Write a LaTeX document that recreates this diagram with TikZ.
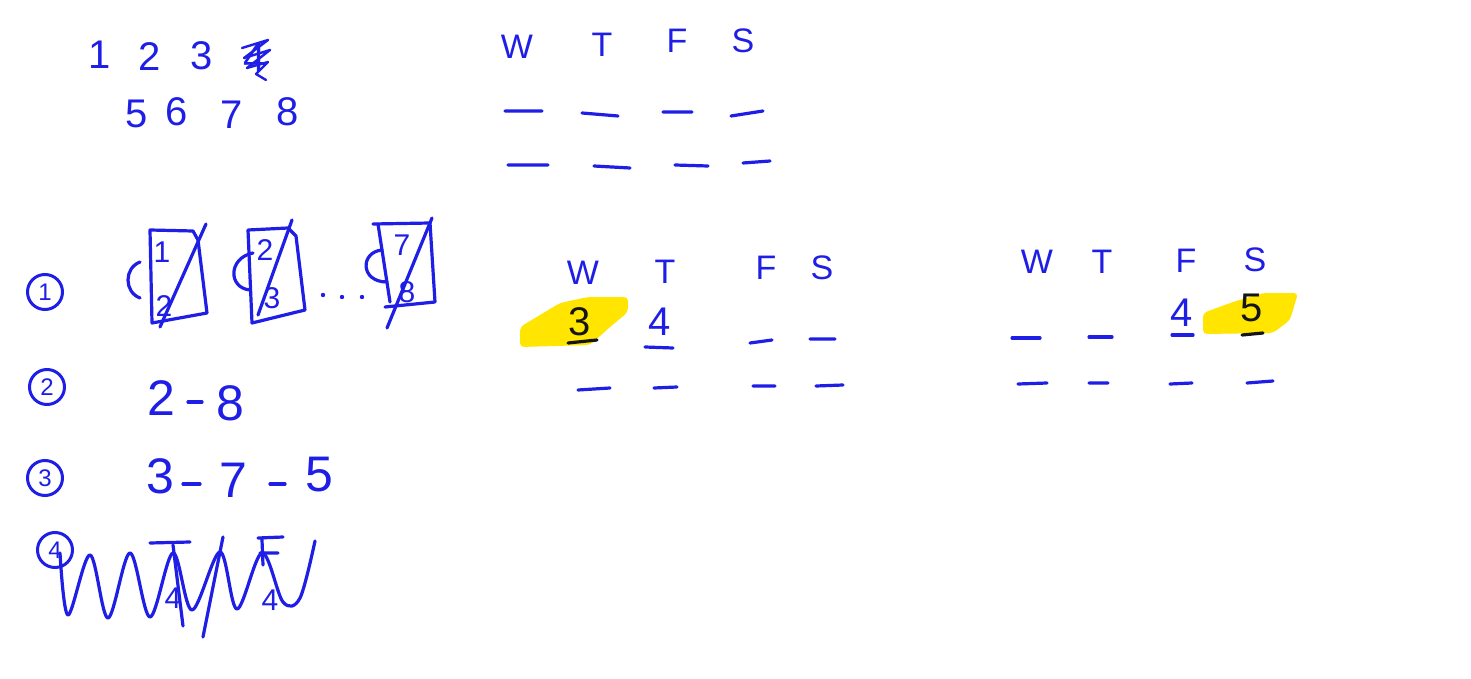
\documentclass[tikz,border=0pt]{standalone}
\usepackage{fontspec}
\setmainfont{Liberation Sans}
\usetikzlibrary{positioning}
\definecolor{ink}{HTML}{1E1EE6}
\definecolor{marker}{HTML}{FFE500}
\definecolor{pencil}{HTML}{151515}
\tikzset{
  digit/.style={
    text=ink,
    inner sep=0pt,
    font=\fontsize{40}{40}\selectfont
  },
  bigdigit/.style={
    digit,
    font=\fontsize{50}{50}\selectfont
  },
  smalldigit/.style={
    digit,
    font=\fontsize{30}{30}\selectfont
  },
  dayname/.style={
    text=ink,
    inner sep=0pt,
    font=\fontsize{34}{34}\selectfont
  },
  picked/.style={
    digit,
    text=pencil
  },
  itemnum/.style={
    draw=ink,
    circle,
    line width=3pt,
    minimum size=35pt,
    inner sep=0pt,
    text=ink,
    font=\fontsize{24}{24}\selectfont
  },
  stroke/.style={draw=ink,line width=3.2pt,line cap=round,line join=round},
  slot/.style={stroke},
  highlight/.style={fill=marker,draw=none,rounded corners=4pt}
}

\begin{document}
\begin{tikzpicture}[x=1pt,y=-1pt]
\fill[white] (0,0) rectangle (1471,679);
\useasboundingbox (0,0) rectangle (1471,679);

% players
\node[digit] (p1) at (100,55) {1};
\node[digit] (p2) at (150,57) {2};
\node[digit] (p3) at (202,56) {3};
\node[digit] (p4) at (255,58) {4};
\draw[stroke,line width=2.4pt] (242,48) -- (268,40) -- (244,58) -- (270,50) -- (247,68) -- (268,62) -- (256,74) -- (266,80);
\node[digit] (p5) at (137,114) {5};
\node[digit] (p6) at (177,112) {6};
\node[digit] (p7) at (232,115) {7};
\node[digit] (p8) at (288,112) {8};

% first schedule
\node[dayname] (topW) at (517,47) {W};
\node[dayname] (topT) at (602,45) {T};
\node[dayname] (topF) at (677,41) {F};
\node[dayname] (topS) at (743,41) {S};
\draw[slot] (505,111) -- (542,111) (582,113) -- (618,116) (663,112) -- (692,112) (731,116) -- (763,111);
\draw[slot] (508,165) -- (548,165) (594,166) -- (630,168) (675,165) -- (708,166) (743,163) -- (770,161);

% step 1
\node[itemnum] (item1) at (45,292) {1};
\draw[stroke] (140,262) .. controls (124,268) and (124,292) .. (140,298);
\draw[stroke] (150,230) -- (193,231) -- (198,240) -- (207,313) -- (152,323) -- cycle;
\node[smalldigit] (b1top) at (162,252) {1};
\node[smalldigit] (b1bot) at (164,306) {2};
\draw[stroke] (206,224) -- (160,327);
\draw[stroke] (253,253) .. controls (228,258) and (228,288) .. (250,290);
\draw[stroke] (248,230) -- (288,228) -- (296,236) -- (305,310) -- (252,323) -- cycle;
\node[smalldigit] (b2top) at (265,250) {2};
\node[smalldigit] (b2bot) at (272,298) {3};
\draw[stroke] (292,220) -- (258,315);
\fill[ink] (323,295) circle (2.2pt) (342,297) circle (2.2pt) (362,297) circle (2.2pt);
\draw[stroke] (382,250) .. controls (360,252) and (360,282) .. (387,282);
\draw[stroke] (373,224) -- (430,223) -- (435,302) -- (385,307);
\draw[stroke] (378,224) -- (390,302);
\node[smalldigit] (b3top) at (402,245) {7};
\node[smalldigit] (b3bot) at (407,292) {8};
\draw[stroke] (432,218) -- (387,328);

% step 2
\node[itemnum] (item2) at (47,387) {2};
\node[bigdigit] (s2a) at (161,398) {2};
\draw[stroke] (188,402) -- (202,402);
\node[bigdigit] (s2b) at (230,403) {8};

% step 3
\node[itemnum] (item3) at (45,478) {3};
\node[bigdigit] (s3a) at (160,476) {3};
\draw[stroke] (183,484) -- (200,484);
\node[bigdigit] (s3b) at (233,480) {7};
\draw[stroke] (270,484) -- (285,484);
\node[bigdigit] (s3c) at (319,475) {5};

% step 4
\node[itemnum] (item4) at (55,550) {4};
\draw[stroke] plot[smooth,tension=0.55] coordinates {(60,553) (68,615) (90,555) (108,618) (130,553) (150,617) (173,553) (192,610) (220,552) (237,609) (262,553) (283,602) (300,598) (315,541)};
\draw[stroke] (150,543) -- (190,542) (173,545) -- (183,626);
\draw[stroke] (258,538) -- (283,537) (262,540) -- (263,565) (260,553) -- (278,553);
\draw[stroke] (223,537) -- (203,637);
\node[smalldigit] (t4) at (173,598) {4};
\node[smalldigit] (f4) at (270,600) {4};

% second schedule
\draw[highlight] (520,327) -- (560,303) -- (588,297) -- (628,297) -- (628,312) -- (610,327) -- (590,345) -- (520,347) -- cycle;
\node[dayname] (midW) at (583,273) {W};
\node[dayname] (midT) at (665,272) {T};
\node[dayname] (midF) at (766,268) {F};
\node[dayname] (midS) at (822,268) {S};
\node[picked] (mid3) at (580,322) {3};
\draw[stroke,draw=pencil] (568,343) -- (597,340);
\node[digit] (mid4) at (660,322) {4};
\draw[slot] (645,347) -- (673,348) (750,343) -- (772,340) (810,339) -- (835,339);
\draw[slot] (578,390) -- (610,388) (654,388) -- (677,387) (753,386) -- (775,386) (816,386) -- (843,385);

% third schedule
\draw[highlight] (1203,313) -- (1233,302) -- (1263,293) -- (1298,293) -- (1290,320) -- (1273,333) -- (1203,334) -- cycle;
\node[dayname] (rightW) at (1037,262) {W};
\node[dayname] (rightT) at (1102,262) {T};
\node[dayname] (rightF) at (1186,261) {F};
\node[dayname] (rightS) at (1255,260) {S};
\node[digit] (right4) at (1182,313) {4};
\node[picked] (right5) at (1252,308) {5};
\draw[stroke,draw=pencil] (1242,335) -- (1263,333);
\draw[slot] (1012,338) -- (1040,338) (1089,337) -- (1112,337) (1172,335) -- (1193,335);
\draw[slot] (1018,384) -- (1047,383) (1089,383) -- (1108,383) (1170,384) -- (1192,383) (1247,383) -- (1273,381);
\end{tikzpicture}
\end{document}
